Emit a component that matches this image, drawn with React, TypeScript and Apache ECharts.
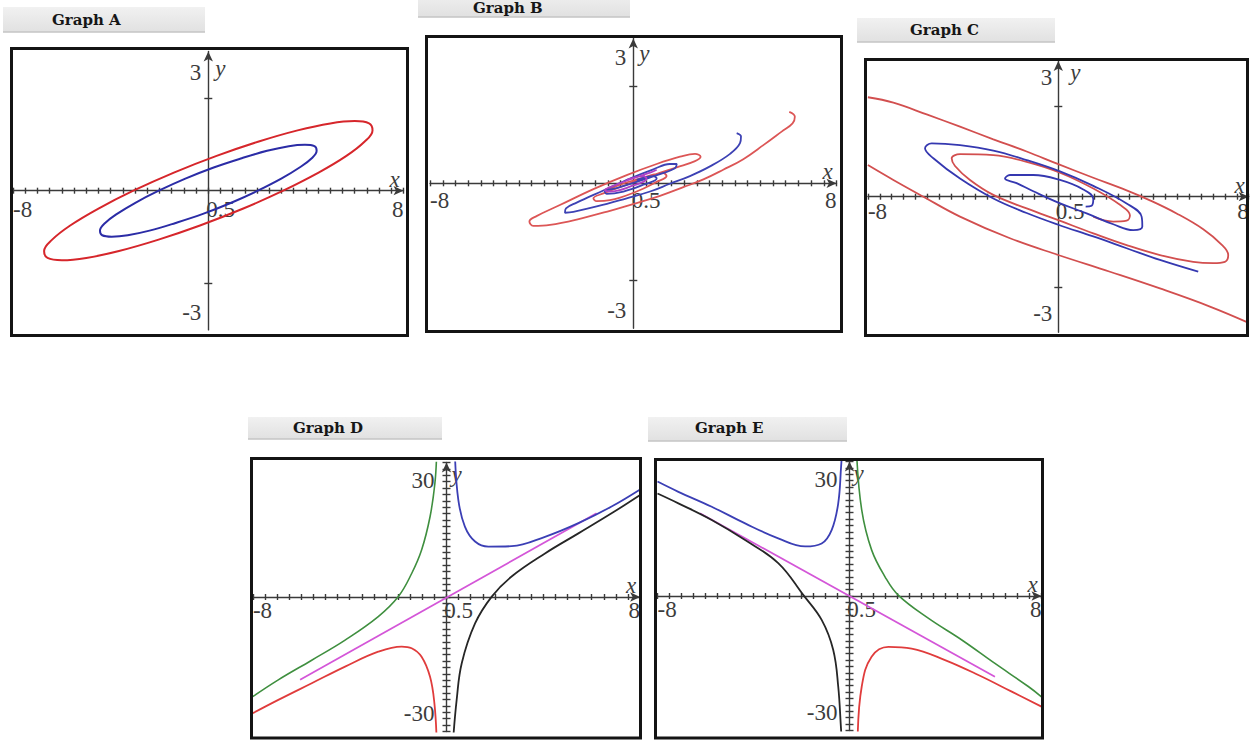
import { useEffect, useRef } from 'react';
import * as echarts from 'echarts';

type Pt = [number, number];

// ---------- axis values ----------
const xLabelValues = [-8, 0.5, 8];
const orbitYLabels = [-3, 3];
const orbitYTicks = [-2, 2];
const curveYLabels = [-30, 30];

// ---------- Graph A: two closed orbits ----------
const aOuterRed: Pt[] = [
  [3.07, 0], [4.52, 0.39], [5.66, 0.75], [6.41, 1.06], [6.73, 1.3], [6.59, 1.45], [6.0, 1.5],
  [5.0, 1.45], [3.66, 1.3], [2.07, 1.06], [0.34, 0.75], [-1.41, 0.39], [-3.07, 0],
  [-4.52, -0.39], [-5.66, -0.75], [-6.41, -1.06], [-6.73, -1.3], [-6.59, -1.45], [-6.0, -1.5],
  [-5.0, -1.45], [-3.66, -1.3], [-2.07, -1.06], [-0.34, -0.75], [1.41, -0.39], [3.07, 0], [4.52, 0.39],
];
const aInnerBlue: Pt[] = [
  [2.03, 0], [2.99, 0.26], [3.74, 0.5], [4.24, 0.7], [4.44, 0.86], [4.35, 0.96], [3.96, 0.99],
  [3.3, 0.96], [2.41, 0.86], [1.37, 0.7], [0.22, 0.5], [-0.94, 0.26], [-2.03, 0],
  [-2.99, -0.26], [-3.74, -0.5], [-4.24, -0.7], [-4.44, -0.86], [-4.35, -0.96], [-3.96, -0.99],
  [-3.3, -0.96], [-2.41, -0.86], [-1.37, -0.7], [-0.22, -0.5], [0.94, -0.26], [2.03, 0], [2.99, 0.26],
];

// ---------- Graph B: trajectories winding in to the origin ----------
const bRedSpiral: Pt[] = [
  [6.14, 1.48], [6.36, 1.38], [6.27, 1.24], [5.84, 1.07], [5.12, 0.79], [4.33, 0.5], [3.54, 0.28],
  [2.76, 0.08], [1.97, -0.08], [1.05, -0.26], [0.13, -0.41], [-0.92, -0.57], [-2.23, -0.75],
  [-3.28, -0.86], [-3.94, -0.88], [-4.09, -0.79], [-3.81, -0.68], [-2.89, -0.45], [-1.57, -0.12],
  [-0.26, 0.17], [0.92, 0.4], [1.84, 0.55], [2.43, 0.61], [2.65, 0.55], [2.43, 0.46], [1.71, 0.33],
  [0.79, 0.17], [-0.26, -0.03], [-1.18, -0.21], [-1.57, -0.31], [-1.44, -0.37], [-0.92, -0.35],
  [0.13, -0.17], [0.92, 0.03], [1.31, 0.15], [1.18, 0.21], [0.39, 0.12], [-0.52, -0.03], [-0.92, -0.12],
];
const bBlueSpiral: Pt[] = [
  [4.07, 1.04], [4.24, 0.97], [4.2, 0.83], [3.81, 0.61], [3.02, 0.35], [2.23, 0.15], [1.44, -0.01],
  [0.66, -0.17], [-0.26, -0.31], [-1.44, -0.48], [-2.36, -0.59], [-2.69, -0.61], [-2.65, -0.52],
  [-2.23, -0.4], [-1.18, -0.15], [-0.13, 0.1], [0.79, 0.29], [1.44, 0.4], [1.71, 0.4], [1.64, 0.31],
  [1.05, 0.19], [0.13, 0.03], [-0.66, -0.1], [-1.12, -0.17], [-1.05, -0.22], [-0.39, -0.17],
  [0.39, -0.03], [0.92, 0.1], [0.79, 0.15], [0.13, 0.07],
];
const bMagentaSpiral: Pt[] = [
  [0.92, 0.28], [0.66, 0.22], [-0.13, 0.08], [-0.92, -0.08], [-1.12, -0.14], [-0.92, -0.17],
  [-0.13, -0.07], [0.52, 0.1], [0.39, 0.15], [-0.26, 0.07],
];

// ---------- Graph C ----------
const cRedSpiral: Pt[] = [
  [-8.0, 2.2], [-6.93, 2.08], [-5.53, 1.82], [-4.13, 1.55], [-2.73, 1.27], [-1.33, 1.0], [0, 0.72],
  [1.47, 0.42], [2.87, 0.14], [3.85, -0.08], [4.97, -0.37], [6.09, -0.72], [6.86, -1.06], [7.14, -1.29],
  [7.0, -1.44], [6.51, -1.47], [5.67, -1.44], [4.27, -1.29], [2.87, -1.07], [1.47, -0.81], [0, -0.52],
  [-1.33, -0.26], [-2.73, 0.04], [-3.71, 0.37], [-4.34, 0.68], [-4.48, 0.85], [-4.13, 0.94],
  [-2.73, 0.92], [-1.33, 0.77], [0.07, 0.53], [1.47, 0.18], [2.59, -0.18], [3.01, -0.41],
  [2.87, -0.53], [2.31, -0.55], [1.47, -0.44],
];
const cBlueSpiral: Pt[] = [
  [5.88, -1.66], [4.27, -1.4], [2.87, -1.14], [1.47, -0.88], [0, -0.62], [-1.33, -0.36], [-2.73, -0.04],
  [-4.13, 0.4], [-5.25, 0.85], [-5.6, 1.07], [-5.32, 1.18], [-4.13, 1.14], [-2.73, 1.02], [-1.33, 0.81],
  [0.07, 0.56], [1.47, 0.24], [2.87, -0.15], [3.5, -0.44], [3.53, -0.66], [3.15, -0.74], [2.31, -0.61],
  [1.19, -0.37], [0, -0.13], [-1.05, 0.12], [-1.75, 0.3], [-2.24, 0.4], [-2.03, 0.48], [-1.05, 0.48],
  [0.07, 0.37], [1.05, 0.16], [1.47, -0.05], [1.4, -0.2], [1.15, -0.22],
];
const cRedLower: Pt[] = [
  [-8.0, 0.7], [-6.93, 0.37], [-5.67, 0], [-4.13, -0.44], [-2.03, -0.92], [0, -1.29], [2.17, -1.66],
  [4.27, -2.03], [6.37, -2.43], [8.0, -2.79],
];

// ---------- Graph D ----------
const dGreen: Pt[] = [
  [-0.41, 33], [-0.48, 26.6], [-0.68, 18.8], [-1.03, 11.0], [-1.44, 5.5], [-1.99, 0.1], [-2.82, -4.6],
  [-4.19, -10.1], [-5.57, -14.8], [-6.95, -19.4], [-8.0, -23.3],
];
const dRed: Pt[] = [
  [-8.0, -27.2], [-6.95, -24.1], [-5.57, -20.2], [-4.19, -16.3], [-2.82, -12.8], [-1.85, -11.6],
  [-1.44, -12.0], [-1.03, -14.0], [-0.68, -18.7], [-0.5, -24.9], [-0.41, -33],
];
const dBlue: Pt[] = [
  [0.35, 33], [0.49, 22.7], [0.76, 16.5], [1.18, 13.0], [1.73, 11.8], [2.69, 11.9], [4.07, 14.1],
  [5.45, 17.3], [6.82, 21.2], [8.0, 25.2],
];
const dBlack: Pt[] = [
  [0.28, -33], [0.42, -24.1], [0.63, -15.5], [1.18, -6.2], [1.87, 0.1], [2.69, 4.8], [4.07, 10.2],
  [5.45, 14.9], [6.82, 19.6], [8.0, 23.9],
];
const dMagenta: Pt[] = [[-6.05, -19.4], [6.2, 19.6]];

// ---------- Graph E ----------
const eBlue: Pt[] = [
  [-8.0, 26.8], [-7.13, 24.4], [-5.74, 20.9], [-4.35, 17.0], [-2.97, 13.5], [-1.85, 11.6],
  [-1.16, 12.3], [-0.74, 15.5], [-0.47, 21.7], [-0.35, 30.3], [-0.32, 33],
];
const eGreen: Pt[] = [
  [0.3, 33], [0.51, 20.1], [0.92, 10.8], [1.48, 4.5], [2.03, 0.2], [3.28, -5.2], [4.68, -10.3],
  [6.06, -15.8], [7.45, -21.2], [8.0, -23.6],
];
const eBlack: Pt[] = [
  [-8.0, 24.0], [-7.13, 21.7], [-5.74, 17.8], [-4.35, 13.1], [-2.97, 7.7], [-1.92, 0.2], [-1.16, -5.6],
  [-0.68, -12.6], [-0.47, -21.2], [-0.35, -31.4], [-0.33, -33],
];
const eRed: Pt[] = [
  [0.34, -33], [0.51, -21.2], [0.92, -14.2], [1.62, -11.9], [2.59, -12.3], [3.98, -15.0], [5.37, -18.5],
  [6.76, -22.4], [8.0, -25.9],
];
const eMagenta: Pt[] = [[-6.23, 19.4], [6.06, -18.9]];

// ---------- styling ----------
const SERIF = '"Liberation Serif", "Times New Roman", serif';
const AXIS_COLOR = '#3a3a3a';
const LABEL_COLOR = '#3c3c3c';
const LABEL_SIZE = 23;
const X_RANGE: [number, number] = [-8, 8];

interface Curve { data: Pt[]; color: string; width?: number }
interface Panel {
  title: string;
  tab: [number, number, number, number];
  titlePos: [number, number];
  frame: [number, number, number, number];
  grid: [number, number, number, number];
  yRange: [number, number];
  yInterval?: number;
  yTickValues?: number[];
  yTickLen: number;
  yLabels: number[];
  yLabelMargin: number;
  yLabelPad: [number, number];
  xLabelMargin: number;
  yNameGap: number;
  yNamePad: number;
  curves: Curve[];
}

const PANELS: Panel[] = [
  {
    title: 'Graph A', tab: [3, 7, 202, 25], titlePos: [52, 20],
    frame: [11.5, 48.5, 396, 287], grid: [13.1, 51.5, 390.4, 278.4],
    yRange: [-3, 3], yTickValues: orbitYTicks, yTickLen: 4, yLabels: orbitYLabels,
    yLabelMargin: 7, yLabelPad: [9, 6], xLabelMargin: 7, yNameGap: -17, yNamePad: 7,
    curves: [
      { data: aOuterRed, color: '#d6262b' },
      { data: aInnerBlue, color: '#2b2ca6' },
    ],
  },
  {
    title: 'Graph B', tab: [418, -8, 212, 25], titlePos: [473, 8],
    frame: [426.5, 36.5, 415, 295], grid: [430.1, 38.4, 406.4, 289.8],
    yRange: [-3, 3], yTickValues: orbitYTicks, yTickLen: 4, yLabels: orbitYLabels,
    yLabelMargin: 7, yLabelPad: [8, 6], xLabelMargin: 6, yNameGap: -15, yNamePad: 6,
    curves: [
      { data: bRedSpiral, color: '#dc5656', width: 1.8 },
      { data: bBlueSpiral, color: '#3d42b4', width: 1.8 },
      { data: bMagentaSpiral, color: '#b040c4', width: 1.8 },
    ],
  },
  {
    title: 'Graph C', tab: [857, 18, 198, 24], titlePos: [910, 30],
    frame: [865.5, 59.5, 382, 276], grid: [867.9, 61.1, 380.8, 271.2],
    yRange: [-3, 3], yTickValues: orbitYTicks, yTickLen: 4, yLabels: orbitYLabels,
    yLabelMargin: 6, yLabelPad: [5, 7], xLabelMargin: 3, yNameGap: -11, yNamePad: 12,
    curves: [
      { data: cRedSpiral, color: '#d24f4f', width: 1.8 },
      { data: cRedLower, color: '#d24f4f', width: 1.8 },
      { data: cBlueSpiral, color: '#3538b0', width: 1.8 },
    ],
  },
  {
    title: 'Graph D', tab: [248, 417, 194, 22], titlePos: [293, 428],
    frame: [251.5, 458.5, 389, 279.5], grid: [252.9, 462.5, 387.2, 269],
    yRange: [-31.5, 31.5], yInterval: 1.5, yTickLen: 4, yLabels: curveYLabels,
    yLabelMargin: 12, yLabelPad: [0, 0], xLabelMargin: 2, yNameGap: -12, yNamePad: 5,
    curves: [
      { data: dMagenta, color: '#d456d8', width: 1.8 },
      { data: dGreen, color: '#3f8f3f', width: 1.6 },
      { data: dRed, color: '#e03c3c', width: 1.8 },
      { data: dBlue, color: '#3b3fb5', width: 1.8 },
      { data: dBlack, color: '#262626', width: 1.8 },
    ],
  },
  {
    title: 'Graph E', tab: [648, 417, 199, 24], titlePos: [695, 428],
    frame: [655.5, 459.5, 387, 278.5], grid: [657.5, 461.5, 384, 269],
    yRange: [-31.5, 31.5], yInterval: 1.5, yTickLen: 4, yLabels: curveYLabels,
    yLabelMargin: 12, yLabelPad: [0, 0], xLabelMargin: 2, yNameGap: -11.5, yNamePad: 4,
    curves: [
      { data: eMagenta, color: '#d456d8', width: 1.8 },
      { data: eBlue, color: '#3b3fb5', width: 1.8 },
      { data: eGreen, color: '#3f8f3f', width: 1.6 },
      { data: eBlack, color: '#262626', width: 1.8 },
      { data: eRed, color: '#e03c3c', width: 1.8 },
    ],
  },
];

function buildOption(): echarts.EChartsOption {
  const grid: any[] = [];
  const xAxis: any[] = [];
  const yAxis: any[] = [];
  const series: any[] = [];
  const graphic: any[] = [];
  const lineStyle = { color: AXIS_COLOR, width: 1.4 };
  const labelFont = { fontFamily: SERIF, fontSize: LABEL_SIZE, color: LABEL_COLOR };
  const nameFont = { fontFamily: SERIF, fontStyle: 'italic', fontSize: LABEL_SIZE, color: LABEL_COLOR };

  PANELS.forEach((p, i) => {
    const [gl, gt, gw, gh] = p.grid;
    grid.push({ left: gl, top: gt, width: gw, height: gh, show: false, containLabel: false, outerBoundsMode: 'none' });
    const xi = xAxis.length;
    const yi = yAxis.length;

    // Where the origin falls inside the grid: the axes are shifted there
    // with `offset` so that their labels travel with them.
    const zeroX = gl + (gw * (0 - X_RANGE[0])) / (X_RANGE[1] - X_RANGE[0]);
    const zeroY = gt + (gh * p.yRange[1]) / (p.yRange[1] - p.yRange[0]);
    const offBottom = zeroY - (gt + gh);
    const offTop = gt - zeroY;
    const offLeft = gl - zeroX;
    const offRight = zeroX - (gl + gw);

    // main x axis: line, arrow, downward ticks, labels
    xAxis.push({
      type: 'value', gridIndex: i, min: X_RANGE[0], max: X_RANGE[1], interval: 0.5, position: 'bottom',
      offset: offBottom,
      axisLine: { show: true, onZero: false, lineStyle, symbol: ['none', 'arrow'], symbolSize: [7, 10] },
      axisTick: { show: true, length: 3, lineStyle },
      axisLabel: {
        show: true, customValues: xLabelValues, formatter: (v: number) => String(v),
        alignMinLabel: 'left', alignMaxLabel: 'right', margin: p.xLabelMargin, ...labelFont,
      },
      splitLine: { show: false },
      name: 'x', nameLocation: 'end', nameGap: -9, nameMoveOverlap: false,
      nameTextStyle: { ...nameFont, align: 'center', verticalAlign: 'bottom' },
    });
    // twin x axis: upward half of each tick
    xAxis.push({
      type: 'value', gridIndex: i, min: X_RANGE[0], max: X_RANGE[1], interval: 0.5, position: 'top',
      offset: offTop,
      axisLine: { show: false, onZero: false },
      axisTick: { show: true, length: 3, lineStyle },
      axisLabel: { show: false },
      splitLine: { show: false },
    });

    const tickExtra = p.yTickValues ? { customValues: p.yTickValues } : {};
    const intervalExtra = p.yInterval ? { interval: p.yInterval } : {};
    yAxis.push({
      type: 'value', gridIndex: i, min: p.yRange[0], max: p.yRange[1], position: 'left', ...intervalExtra,
      offset: offLeft,
      axisLine: { show: true, onZero: false, lineStyle, symbol: ['none', 'arrow'], symbolSize: [7, 10] },
      axisTick: { show: true, length: p.yTickLen, lineStyle, ...tickExtra },
      axisLabel: {
        show: true, customValues: p.yLabels, formatter: (v: number) => String(v),
        verticalAlignMinLabel: 'bottom', verticalAlignMaxLabel: 'top',
        padding: [p.yLabelPad[0], 0, p.yLabelPad[1], 0],
        margin: p.yLabelMargin, ...labelFont,
      },
      splitLine: { show: false },
      name: 'y', nameLocation: 'end', nameGap: p.yNameGap, nameMoveOverlap: false,
      nameTextStyle: { ...nameFont, align: 'left', verticalAlign: 'middle', padding: [0, 0, 0, p.yNamePad] },
    });
    yAxis.push({
      type: 'value', gridIndex: i, min: p.yRange[0], max: p.yRange[1], position: 'right', ...intervalExtra,
      offset: offRight,
      axisLine: { show: false, onZero: false },
      axisTick: { show: true, length: p.yTickLen, lineStyle, ...tickExtra },
      axisLabel: { show: false },
      splitLine: { show: false },
    });

    p.curves.forEach((c) => {
      series.push({
        type: 'line', xAxisIndex: xi, yAxisIndex: yi, data: c.data, symbol: 'none', showSymbol: false,
        smooth: 0.4, clip: true, silent: true, z: 3,
        lineStyle: { color: c.color, width: c.width ?? 2 },
      });
    });

    // title tab
    const [tx, ty, tw, th] = p.tab;
    graphic.push({
      type: 'rect', silent: true, z: 90,
      shape: { x: tx, y: ty, width: tw, height: th },
      style: {
        fill: new echarts.graphic.LinearGradient(0, 0, 0, 1, [
          { offset: 0, color: '#f1f1f1' }, { offset: 1, color: '#e1e1e1' },
        ]),
      },
    });
    graphic.push({
      type: 'line', silent: true, z: 91,
      shape: { x1: tx, y1: ty + th, x2: tx + tw, y2: ty + th },
      style: { stroke: '#c4c4c4', lineWidth: 1.5 },
    });
    graphic.push({
      type: 'text', silent: true, z: 92, x: p.titlePos[0], y: p.titlePos[1],
      style: {
        text: p.title, fontFamily: '"DejaVu Serif", serif', fontWeight: 'bold', fontSize: 15,
        fill: '#161616', align: 'left', verticalAlign: 'middle',
      },
    });

    // panel frame
    const [fx, fy, fw, fh] = p.frame;
    graphic.push({
      type: 'rect', silent: true, z: 100,
      shape: { x: fx, y: fy, width: fw, height: fh },
      style: { fill: 'none', stroke: '#141414', lineWidth: 3 },
    });
  });

  return {
    animation: false,
    backgroundColor: '#ffffff',
    grid, xAxis, yAxis, series, graphic,
  } as echarts.EChartsOption;
}

export default function App() {
  const ref = useRef<HTMLDivElement>(null);
  useEffect(() => {
    if (!ref.current) return;
    const chart = echarts.init(ref.current, undefined, { renderer: 'svg' });
    chart.setOption(buildOption());
    return () => chart.dispose();
  }, []);
  return (
    <div
      ref={ref}
      style={{ position: 'fixed', left: 0, top: 0, width: 1250, height: 740, background: '#fff' }}
    />
  );
}
